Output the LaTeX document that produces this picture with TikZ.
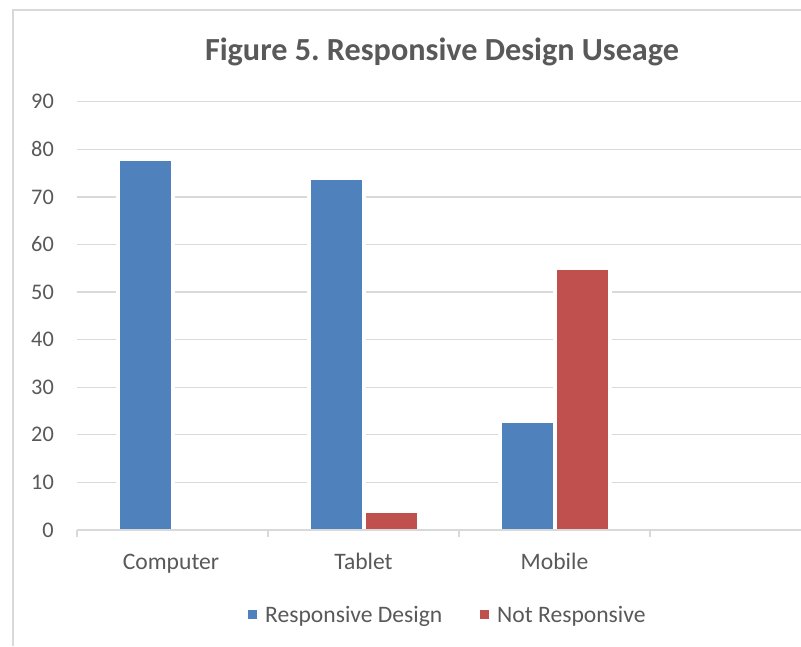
\documentclass[tikz,border=0pt]{standalone}
\usepackage{fontspec}
\setmainfont{Carlito}
\definecolor{gridgray}{HTML}{D9D9D9}
\definecolor{textgray}{HTML}{595959}
\definecolor{respblue}{HTML}{4F81BD}
\definecolor{notred}{HTML}{C0504D}
\tikzset{
  gridline/.style={draw=gridgray, line width=1.3pt},
  ticklabel/.style={anchor=east, inner sep=0pt, text=textgray, font=\fontsize{22.3}{26}\selectfont},
  catlabel/.style={anchor=base, inner sep=0pt, text=textgray, font=\fontsize{23.6}{27}\selectfont},
  legendlabel/.style={anchor=base west, inner sep=0pt, text=textgray, font=\fontsize{23.6}{27}\selectfont},
  barblue/.style={draw=white, line width=4pt, fill=respblue},
  barred/.style={draw=white, line width=4pt, fill=notred}
}
\begin{document}
\begin{tikzpicture}[x=1pt, y=-1pt]
      \useasboundingbox[fill=white] (0,0) rectangle (801,646);
      \draw[gridgray, line width=1.3pt] (13,646) -- (13,10) -- (801,10);
      \node[anchor=base, inner sep=0pt, text=textgray, font=\fontsize{32.2}{36}\selectfont\bfseries]
        (title) at (442,60) {Figure 5.\ Responsive Design Useage};
      \draw
        (54,530.0) node[ticklabel] (t0){0}
        (54,482.4) node[ticklabel] (t10){10}
        (54,434.8) node[ticklabel] (t20){20}
        (54,387.2) node[ticklabel] (t30){30}
        (54,339.6) node[ticklabel] (t40){40}
        (54,292.0) node[ticklabel] (t50){50}
        (54,244.5) node[ticklabel] (t60){60}
        (54,196.9) node[ticklabel] (t70){70}
        (54,149.3) node[ticklabel] (t80){80}
        (54,101.7) node[ticklabel] (t90){90};
      \begin{scope}[gridline]
        \draw (77,482.4) -- (801,482.4);
        \draw (77,434.8) -- (801,434.8);
        \draw (77,387.2) -- (801,387.2);
        \draw (77,339.6) -- (801,339.6);
        \draw (77,292.0) -- (801,292.0);
        \draw (77,244.5) -- (801,244.5);
        \draw (77,196.9) -- (801,196.9);
        \draw (77,149.3) -- (801,149.3);
        \draw (77,101.7) -- (801,101.7);
      \end{scope}
      \draw[barblue] (117.5,530.7) rectangle (172.5,159.2);
      \draw[barblue] (308.5,530.7) rectangle (363.5,178.2);
      \draw[barred]  (363.5,530.7) rectangle (418.5,511.3);
      \draw[barblue] (499.5,530.7) rectangle (554.5,420.9);
      \draw[barred]  (554.5,530.7) rectangle (609.5,268.2);
      \draw[gridgray, line width=1.5pt] (77,530) -- (801,530);
      \begin{scope}[gridline]
        \draw (77,530) -- (77,537);
        \draw (268,530) -- (268,537);
        \draw (459,530) -- (459,537);
        \draw (650,530) -- (650,537);
      \end{scope}
      \draw
        (171,569) node[catlabel] (computer){Computer}
        (363.5,569) node[catlabel] (tablet){Tablet}
        (554.5,569) node[catlabel] (mobile){Mobile};
      \fill[respblue] (248,610) rectangle (257,619);
      \node[legendlabel] (responsive) at (265,622) {Responsive Design};
      \fill[notred] (480,610) rectangle (489,619);
      \node[legendlabel] (notresponsive) at (497,622) {Not Responsive};
    \end{tikzpicture}
\end{document}
